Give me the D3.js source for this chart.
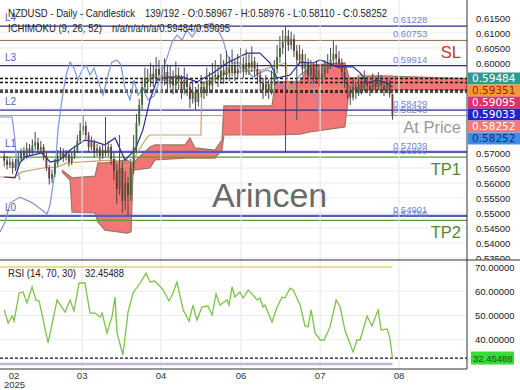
<!DOCTYPE html>
<html>
<head>
<meta charset="utf-8">
<script src="https://cdn.jsdelivr.net/npm/d3@7"></script>
<style>
  body { margin: 0; background: #fff; }
  svg { display: block; font-family: 'Liberation Sans', Arial, sans-serif; }
</style>
</head>
<body>
<div id="chart"></div>
<script>
'use strict';

// ---- data ----
var opens = [
  0.5690,0.5675,0.5660,0.5670,0.5650,0.5665,0.5680,0.5700,0.5690,0.5715,
  0.5705,0.5725,0.5735,0.5710,0.5720,0.5690,0.5650,0.5615,0.5630,0.5665,
  0.5690,0.5700,0.5685,0.5695,0.5670,0.5690,0.5710,0.5740,0.5775,0.5790,
  0.5760,0.5720,0.5735,0.5700,0.5715,0.5690,0.5710,0.5700,0.5720,0.5680,
  0.5640,0.5580,0.5650,0.5540,0.5600,0.5560,0.5650,0.5720,0.5800,0.5860,
  0.5920,0.5950,0.5935,0.5965,0.5950,0.5980,0.5960,0.5940,0.5970,0.5930,
  0.5955,0.5925,0.5960,0.5940,0.5910,0.5945,0.5920,0.5880,0.5905,0.5870,
  0.5900,0.5920,0.5900,0.5940,0.5925,0.5955,0.5960,0.5945,0.5975,0.5960,
  0.5985,0.5970,0.5990,0.5965,0.5980,0.5995,0.5975,0.6000,0.5985,0.6005,
  0.5980,0.5960,0.5935,0.5910,0.5930,0.5905,0.5940,0.5980,0.6020,0.6050,
  0.6070,0.6090,0.6060,0.6080,0.6040,0.6010,0.6030,0.5980,0.6000,0.5960,
  0.5985,0.5950,0.5975,0.5945,0.5965,0.5980,0.5995,0.6010,0.6030,0.6015,
  0.6000,0.5970,0.5935,0.5910,0.5885,0.5920,0.5900,0.5930,0.5915,0.5940,
  0.5925,0.5910,0.5935,0.5920,0.5945,0.5925,0.5910,0.5930,0.58967
];
var highs = [
  0.5705,0.5690,0.5685,0.5680,0.5680,0.5700,0.5715,0.5720,0.5735,0.5730,
  0.5745,0.5770,0.5750,0.5740,0.5730,0.5705,0.5660,0.5645,0.5680,0.5710,
  0.5720,0.5715,0.5710,0.5705,0.5705,0.5725,0.5760,0.5800,0.5827,0.5805,
  0.5770,0.5755,0.5745,0.5730,0.5725,0.5730,0.5820,0.5740,0.5730,0.5700,
  0.5665,0.5760,0.5670,0.5640,0.5620,0.5680,0.5760,0.5830,0.5880,0.5950,
  0.5985,0.5980,0.6000,0.5990,0.6020,0.6010,0.5990,0.6015,0.5995,0.5990,
  0.5975,0.6005,0.5985,0.5960,0.5985,0.5965,0.5935,0.5940,0.5920,0.5930,
  0.5960,0.5940,0.5985,0.5970,0.6000,0.6010,0.5990,0.6030,0.6010,0.6040,
  0.6020,0.6045,0.6010,0.6030,0.6050,0.6020,0.6045,0.6030,0.6055,0.6020,
  0.6000,0.5975,0.5950,0.5960,0.5945,0.5975,0.6010,0.6060,0.6090,0.6110,
  0.6123,0.6110,0.6105,0.6095,0.6060,0.6060,0.6045,0.6030,0.6015,0.6010,
  0.6000,0.6005,0.5990,0.5995,0.6010,0.6030,0.6050,0.6075,0.6060,0.6040,
  0.6015,0.5985,0.5950,0.5925,0.5945,0.5935,0.5955,0.5945,0.5975,0.5955,
  0.5940,0.5965,0.5950,0.5970,0.5960,0.5940,0.5950,0.5945,0.58976
];
var lows = [
  0.5655,0.5645,0.5650,0.5630,0.5640,0.5655,0.5670,0.5675,0.5680,0.5690,
  0.5695,0.5710,0.5700,0.5700,0.5675,0.5640,0.5595,0.5600,0.5620,0.5655,
  0.5680,0.5670,0.5675,0.5655,0.5660,0.5680,0.5700,0.5730,0.5760,0.5745,
  0.5705,0.5710,0.5685,0.5690,0.5675,0.5680,0.5690,0.5690,0.5660,0.5610,
  0.5530,0.5560,0.5500,0.5510,0.5490,0.5540,0.5630,0.5700,0.5790,0.5845,
  0.5900,0.5900,0.5920,0.5920,0.5935,0.5940,0.5910,0.5925,0.5900,0.5915,
  0.5895,0.5910,0.5910,0.5880,0.5895,0.5890,0.5850,0.5865,0.5845,0.5855,
  0.5885,0.5880,0.5890,0.5900,0.5910,0.5935,0.5920,0.5930,0.5930,0.5945,
  0.5940,0.5955,0.5940,0.5950,0.5965,0.5950,0.5960,0.5960,0.5970,0.5955,
  0.5930,0.5905,0.5880,0.5890,0.5880,0.5895,0.5925,0.5965,0.6000,0.6030,
  0.5703,0.6040,0.6045,0.6020,0.5810,0.5995,0.5960,0.5965,0.5940,0.5945,
  0.5930,0.5935,0.5920,0.5930,0.5950,0.5965,0.5980,0.5995,0.5995,0.5980,
  0.5950,0.5915,0.5880,0.5860,0.5875,0.5880,0.5890,0.5895,0.5905,0.5900,
  0.5890,0.5900,0.5900,0.5910,0.5905,0.5890,0.5900,0.5885,0.58110
];
var closes = [
  0.5675,0.5660,0.5670,0.5650,0.5665,0.5680,0.5700,0.5690,0.5715,0.5705,
  0.5725,0.5735,0.5710,0.5720,0.5690,0.5650,0.5615,0.5630,0.5665,0.5690,
  0.5700,0.5685,0.5695,0.5670,0.5690,0.5710,0.5740,0.5775,0.5790,0.5760,
  0.5720,0.5735,0.5700,0.5715,0.5690,0.5710,0.5700,0.5720,0.5680,0.5640,
  0.5580,0.5650,0.5540,0.5600,0.5560,0.5650,0.5720,0.5800,0.5860,0.5920,
  0.5950,0.5935,0.5965,0.5950,0.5980,0.5960,0.5940,0.5970,0.5930,0.5955,
  0.5925,0.5960,0.5940,0.5910,0.5945,0.5920,0.5880,0.5905,0.5870,0.5900,
  0.5920,0.5900,0.5940,0.5925,0.5955,0.5960,0.5945,0.5975,0.5960,0.5985,
  0.5970,0.5990,0.5965,0.5980,0.5995,0.5975,0.6000,0.5985,0.6005,0.5980,
  0.5960,0.5935,0.5910,0.5930,0.5905,0.5940,0.5980,0.6020,0.6050,0.6070,
  0.6090,0.6060,0.6080,0.6040,0.6010,0.6030,0.5980,0.6000,0.5960,0.5985,
  0.5950,0.5975,0.5945,0.5965,0.5980,0.5995,0.6010,0.6030,0.6015,0.6000,
  0.5970,0.5935,0.5910,0.5885,0.5920,0.5900,0.5930,0.5915,0.5940,0.5925,
  0.5910,0.5935,0.5920,0.5945,0.5925,0.5910,0.5930,0.5897,0.58252
];

// ichimoku lines, as [bar, price] vertices
var tenkan = [[0,0.5620],[3.8,0.5617],[5.6,0.5667],[7.4,0.5687],[13.4,0.5700],[16.3,0.5670],
  [19.8,0.5677],[23.4,0.5710],[28.7,0.5743],[32.3,0.5737],[35.8,0.5727],[39.4,0.5750],
  [42.9,0.5677],[46.5,0.5710],[49.3,0.5777],[51.8,0.5877],[54.3,0.5943],[57.9,0.5953],
  [63.6,0.5953],[68.5,0.5937],[74.2,0.5967],[79.2,0.6000],[86.3,0.6033],[90.9,0.6033],
  [94.5,0.6000],[97.0,0.5950],[101.6,0.5960],[105.2,0.6003],[109.8,0.6000],[112.3,0.6010],
  [118.3,0.5987],[124.0,0.5987],[126.5,0.5967],[129.0,0.5933],[132.5,0.5943],[136.1,0.5933],
  [138,0.5920]];
var kijun = [[-1.5,0.5620],[3.8,0.5620],[6.3,0.5637],[13.8,0.5650],[18.8,0.5653],[22.3,0.5667],
  [39.4,0.5677],[42.9,0.5653],[45.8,0.5670],[47.2,0.5700],[50.8,0.5753],[51.8,0.5760],
  [69.9,0.5760],[70.3,0.5930],[79.2,0.5967],[91.6,0.5977],[100.2,0.6000],[100.9,0.5913],
  [124.7,0.5913],[125.8,0.5960],[138,0.5957]];
var chikou = [[-1.5,0.5437],[0.3,0.5470],[2.1,0.5533],[5.6,0.5553],[10.2,0.5533],[15.2,0.5497],
  [16.3,0.5527],[18.1,0.5643],[19.1,0.5777],[20.5,0.5877],[22.0,0.5960],[23.4,0.6003],
  [24.8,0.5983],[26.2,0.5943],[27.7,0.5977],[29.1,0.5993],[30.5,0.5960],[31.9,0.5983],
  [33.3,0.5943],[35.1,0.5893],[36.9,0.5960],[38.3,0.6003],[40.1,0.6010],[41.5,0.5993],
  [42.9,0.5917],[44.7,0.5877],[46.1,0.5943],[47.6,0.5893],[49.3,0.5917],[51.1,0.5877],
  [53.2,0.5890],[54.7,0.5927],[56.4,0.5977],[58.2,0.6027],[59.7,0.6070],[61.4,0.6093],
  [63.2,0.6077],[65.0,0.6110],[66.8,0.6087],[68.5,0.6110],[70.0,0.6120],[71.7,0.6127],
  [73.9,0.6133],[76.0,0.6110],[77.8,0.6077],[79.2,0.6027],[81.0,0.6000],[83.8,0.6000],
  [86.3,0.5977],[88.4,0.5953],[90.9,0.5967],[93.4,0.5977],[95.6,0.5967],[98.0,0.5927],
  [101.6,0.5910],[105.2,0.5960],[107.6,0.5977],[109.8,0.5927],[112.3,0.5823]];
var chikouHead = [[-1.5,0.5820],[2.8,0.5820],[3.8,0.5743],[4.6,0.5643],[5.6,0.5610]];

// cloud edges: bar, senkou A (upper), senkou B (lower)
var cloudBars = [20.5,23.4,24.1,32.3,33.3,35.8,43.7,45.1,45.8,51.8,53.6,64.3,66.0,67.8,
  74.9,77.4,78.1,95.2,96.3,105.2,108.7,121.1,122.6,133.6,147.8,164.5];
var senkouA = [0.5643,0.5623,0.5617,0.5623,0.5667,0.5667,0.5677,0.5667,0.5667,0.5720,0.5727,
  0.5727,0.5750,0.5717,0.5710,0.5743,0.5857,0.5857,0.5937,0.5940,0.5993,0.6000,0.5950,
  0.5957,0.5953,0.59484];
var senkouB = [0.5637,0.5610,0.5503,0.5500,0.5470,0.5443,0.5433,0.5437,0.5643,0.5650,0.5677,
  0.5683,0.5683,0.5683,0.5683,0.5710,0.5760,0.5760,0.5760,0.5763,0.5770,0.5787,0.5910,
  0.5910,0.5910,0.59095];

// rsi vertices
var rsiBars = [0,1.4,2.8,3.5,5.3,6.7,8.1,9.9,11.3,12.4,15.6,18.8,21.6,23.4,24.8,26.6,28.7,
  30.5,32.3,34.1,34.8,36.5,38.3,39.4,40.1,42.2,44.0,45.8,48.3,50.4,51.8,53.3,54.3,56.5,
  58.6,60.0,61.4,63.6,65.7,67.1,68.5,70.3,72.4,73.9,75.3,76.7,79.2,79.9,81.0,82.0,83.8,
  84.9,86.7,88.4,89.9,90.9,92.0,92.7,95.2,97.0,98.8,99.8,101.6,102.7,105.2,106.9,108.0,
  109.1,110.5,112.3,113.7,115.8,118.0,119.4,121.1,124.0,125.4,126.5,129.0,130.7,132.9,
  134.0,136.1,137.1,138];
var rsiValues = [52.3,46.9,49.8,47.7,59.3,59.7,55.2,61.8,56.4,56.0,38.7,56.4,51.4,56.4,51.9,
  63.4,63.4,51.0,51.0,49.4,51.0,42.8,49.4,57.6,42.8,33.7,51.4,59.3,63.4,67.5,63.8,64.2,
  63.4,60.5,56.0,59.3,63.8,52.3,47.7,54.3,48.1,53.5,53.9,50.2,58.9,54.3,56.4,54.3,61.8,
  57.6,59.7,57.2,60.5,58.5,56.4,57.2,53.5,54.3,47.3,53.5,57.6,57.2,61.3,60.5,54.3,45.7,
  45.3,52.3,42.8,39.9,39.9,45.3,56.4,53.5,44.0,35.0,39.9,39.9,49.8,45.7,52.3,44.0,44.4,
  40.7,32.45488];

var priceTicks = [0.615,0.610,0.605,0.600,0.595,0.590,0.585,0.580,0.575,0.570,0.565,0.560,
  0.555,0.550,0.545,0.540,0.535];
var rsiTicks = [70, 60, 50, 40, 30];
var monthTicks = [3.5, 27.7, 55.7, 84.2, 112.3, 140.3];
var monthLabels = ['02', '03', '04', '06', '07', '08'];

var levelValues = [0.61228, 0.60753, 0.59914, 0.58429, 0.58248, 0.57039, 0.56860, 0.54901, 0.54756];
var levelColors = ['#2b2d8c','#8a6a4a','#2b2d8c','#2b2d8c','#a89888','#5a5ab8','#5b9a3c','#5a5ab8','#5b9a3c'];
var levelWidths = [1.3, 1, 1.3, 1.3, 1, 2.2, 1.2, 2.2, 1.2];
var zoneNames = ['L4', 'L3', 'L2', 'L1', 'L0'];
var zoneValues = [0.61228, 0.59914, 0.58429, 0.57039, 0.54901];
var dashValues = [0.59484, 0.59351, 0.59095, 0.59033];
var tagNames = ['SL', 'At Price', 'TP1', 'TP2'];
var tagValues = [0.60753, 0.58252, 0.56860, 0.54756];
var tagColors = ['#c0392b', '#9a9a9a', '#4f8a2a', '#4f8a2a'];

var boxValues = [0.59484, 0.59351, 0.59095, 0.59033, 0.58252, 0.58252];
var boxFills = ['#2f9a90', '#ef9a3a', '#e0306a', '#2323c8', '#f27a7a', '#3d8fe6'];
var boxTexts = ['#ffffff', '#b01818', '#ffffff', '#ffffff', '#ffffff', '#10307a'];

var rsiLast = 32.45488;

// ---- layout ----
var W = 520, H = 390,
    plotRight = 467,
    mainBottom = 260,
    rsiBottom = 369,
    lastBar = closes.length - 1;

var x = d3.scaleLinear().domain([-1.5, 164.5]).range([0, plotRight]);
var y = d3.scaleLinear().domain([0.535, 0.615]).range([258, 18]);
var yRsi = d3.scaleLinear().domain([30, 70]).range([364, 267]);

var svg = d3.select('#chart').append('svg')
    .attr('width', W)
    .attr('height', H);

var defs = svg.append('defs');
defs.append('clipPath').attr('id', 'mainClip')
  .append('rect').attr('x', 0).attr('y', 0).attr('width', plotRight).attr('height', mainBottom);
defs.append('clipPath').attr('id', 'rsiClip')
  .append('rect').attr('x', 0).attr('y', mainBottom).attr('width', plotRight).attr('height', rsiBottom - mainBottom);

var main = svg.append('g').attr('clip-path', 'url(#mainClip)');

// grid
main.selectAll('.hgrid')
  .data(priceTicks)
  .enter().append('line')
  .attr('x1', 0).attr('x2', plotRight)
  .attr('y1', function(d) { return y(d); })
  .attr('y2', function(d) { return y(d); })
  .attr('stroke', '#ececec');

svg.selectAll('.vgrid')
  .data(monthTicks.slice(1))
  .enter().append('line')
  .attr('x1', function(d) { return x(d); })
  .attr('x2', function(d) { return x(d); })
  .attr('y1', 0).attr('y2', rsiBottom)
  .attr('stroke', '#e6e6e6');

// cloud
var cloud = cloudBars.map(function(b, i) { return {bar: b, a: senkouA[i], b: senkouB[i]}; });

main.append('path')
  .datum(cloud)
  .attr('fill', '#f36e6e')
  .attr('fill-opacity', 0.95)
  .attr('d', d3.area()
    .x(function(d) { return x(d.bar); })
    .y0(function(d) { return y(d.b); })
    .y1(function(d) { return y(d.a); }));

['a', 'b'].forEach(function(k) {
  main.append('path')
    .datum(cloud)
    .attr('fill', 'none')
    .attr('stroke', '#9a7666')
    .attr('stroke-width', 1.2)
    .attr('d', d3.line()
      .x(function(d) { return x(d.bar); })
      .y(function(d) { return y(d[k]); }));
});

// levels
main.selectAll('.level')
  .data(levelValues)
  .enter().append('line')
  .attr('x1', 0).attr('x2', plotRight)
  .attr('y1', function(d) { return y(d); })
  .attr('y2', function(d) { return y(d); })
  .attr('stroke', function(d, i) { return levelColors[i]; })
  .attr('stroke-width', function(d, i) { return levelWidths[i]; });

main.selectAll('.dash')
  .data(dashValues)
  .enter().append('line')
  .attr('x1', 0).attr('x2', plotRight)
  .attr('y1', function(d) { return y(d); })
  .attr('y2', function(d) { return y(d); })
  .attr('stroke', '#111')
  .attr('stroke-width', 1.4)
  .attr('stroke-dasharray', '3,2');

// ichimoku lines
var pline = d3.line()
  .x(function(d) { return x(d[0]); })
  .y(function(d) { return y(d[1]); });

[[chikou, '#7f97d8'], [chikouHead, '#7f97d8'], [kijun, '#c9a56e'], [tenkan, '#2a2a9a']].forEach(function(s) {
  main.append('path')
    .datum(s[0])
    .attr('fill', 'none')
    .attr('stroke', s[1])
    .attr('stroke-width', 1.2)
    .attr('d', pline);
});

// candles
var bars = d3.range(closes.length);
var candle = main.selectAll('.candle')
  .data(bars)
  .enter().append('g');

candle.append('line')
  .attr('x1', function(i) { return x(i); })
  .attr('x2', function(i) { return x(i); })
  .attr('y1', function(i) { return y(highs[i]); })
  .attr('y2', function(i) { return y(lows[i]); })
  .attr('stroke', '#4a4a4a')
  .attr('stroke-width', 1);

candle.append('rect')
  .attr('x', function(i) { return x(i) - 0.9; })
  .attr('width', 1.8)
  .attr('y', function(i) { return y(Math.max(opens[i], closes[i])); })
  .attr('height', function(i) { return Math.max(1, Math.abs(y(opens[i]) - y(closes[i]))); })
  .attr('fill', function(i) { return closes[i] >= opens[i] ? '#3f6b38' : '#6b3a3a'; });

// level value labels
main.selectAll('.lvl-label')
  .data(levelValues)
  .enter().append('text')
  .attr('x', x(lastBar) + 0.5)
  .attr('y', function(d) { return y(d) - 3; })
  .attr('font-size', 9.5)
  .attr('fill', '#7385d6')
  .text(function(d) { return d.toFixed(5); });

main.selectAll('.zone')
  .data(zoneValues)
  .enter().append('text')
  .attr('x', 5)
  .attr('y', function(d) { return y(d) - 5; })
  .attr('font-size', 10)
  .attr('fill', '#5561b0')
  .text(function(d, i) { return zoneNames[i]; });

main.selectAll('.tag')
  .data(tagValues)
  .enter().append('text')
  .attr('x', 461)
  .attr('y', function(d) { return y(d) + 18; })
  .attr('text-anchor', 'end')
  .attr('font-size', 16.5)
  .attr('fill', function(d, i) { return tagColors[i]; })
  .text(function(d, i) { return tagNames[i]; });

main.append('text')
  .attr('x', 212).attr('y', 207)
  .attr('font-size', 34)
  .attr('fill', '#6a6a6a')
  .text('Arincen');

// header
var hdr = [
  ['NZDUSD - Daily - Candlestick', 8, 17, 127],
  ['139/192 - O:0.58967 - H:0.58976 - L:0.58110 - C:0.58252', 145, 17, 242],
  ['ICHIMOKU (9, 26, 52)', 8, 32, 94],
  ['n/a/n/a/n/a/0.59484/0.59095', 112, 32, 118]
];
svg.selectAll('.hdr')
  .data(hdr)
  .enter().append('text')
  .attr('x', function(d) { return d[1]; })
  .attr('y', function(d) { return d[2]; })
  .attr('textLength', function(d) { return d[3]; })
  .attr('lengthAdjust', 'spacingAndGlyphs')
  .attr('font-family', "'Liberation Sans Narrow', 'Liberation Sans', Arial, sans-serif")
  .attr('font-size', 11.5)
  .attr('fill', '#222')
  .text(function(d) { return d[0]; });

// stacked value boxes
var boxY = [];
boxValues.forEach(function(v, i) {
  var c = y(v);
  if (i > 0) { c = Math.max(c, boxY[i - 1] + 12); }
  boxY.push(c);
});
var boxTop = boxY[0] - 6, boxBottom = boxY[boxY.length - 1] + 6;

// price axis labels (the ones under the box stack are covered anyway)
svg.selectAll('.ptick')
  .data(priceTicks.filter(function(d) { return y(d) < boxTop - 4 || y(d) > boxBottom + 4; }))
  .enter().append('text')
  .attr('x', 476)
  .attr('y', function(d) { return y(d) + 3.5; })
  .attr('font-size', 9.5)
  .attr('fill', '#222')
  .text(function(d) { return d.toFixed(5); });

var box = svg.selectAll('.box')
  .data(boxValues)
  .enter().append('g')
  .attr('transform', function(d, i) { return 'translate(468,' + (boxY[i] - 6) + ')'; });

box.append('rect')
  .attr('width', 52).attr('height', 12)
  .attr('fill', function(d, i) { return boxFills[i]; });

box.append('text')
  .attr('x', 4).attr('y', 9.8)
  .attr('font-family', "'DejaVu Sans', sans-serif")
  .attr('font-size', 10.5)
  .attr('fill', function(d, i) { return boxTexts[i]; })
  .text(function(d) { return d.toFixed(5); });

// ---- rsi panel ----
svg.append('rect')
  .attr('x', 0).attr('y', mainBottom)
  .attr('width', W).attr('height', H - mainBottom)
  .attr('fill', '#fff');

svg.selectAll('.vgrid2')
  .data(monthTicks.slice(1))
  .enter().append('line')
  .attr('x1', function(d) { return x(d); })
  .attr('x2', function(d) { return x(d); })
  .attr('y1', mainBottom).attr('y2', rsiBottom)
  .attr('stroke', '#e6e6e6');

var rsiG = svg.append('g').attr('clip-path', 'url(#rsiClip)');

rsiG.selectAll('.rgrid')
  .data(rsiTicks.slice(1, 4))
  .enter().append('line')
  .attr('x1', 0).attr('x2', plotRight)
  .attr('y1', function(d) { return yRsi(d); })
  .attr('y2', function(d) { return yRsi(d); })
  .attr('stroke', '#ececec');

rsiG.append('line')
  .attr('x1', 0).attr('x2', x(lastBar))
  .attr('y1', yRsi(70)).attr('y2', yRsi(70))
  .attr('stroke', '#e8dc98').attr('stroke-width', 2);

rsiG.append('line')
  .attr('x1', 0).attr('x2', x(lastBar))
  .attr('y1', yRsi(30)).attr('y2', yRsi(30))
  .attr('stroke', '#c2b2e0').attr('stroke-width', 2.5);

rsiG.append('line')
  .attr('x1', 0).attr('x2', plotRight)
  .attr('y1', yRsi(rsiLast)).attr('y2', yRsi(rsiLast))
  .attr('stroke', '#111').attr('stroke-width', 1.3)
  .attr('stroke-dasharray', '3,2');

rsiG.append('path')
  .datum(rsiBars.map(function(b, i) { return [b, rsiValues[i]]; }))
  .attr('fill', 'none')
  .attr('stroke', '#7cc24a')
  .attr('stroke-width', 1.3)
  .attr('d', d3.line()
    .x(function(d) { return x(d[0]); })
    .y(function(d) { return yRsi(d[1]); }));

svg.append('text')
  .attr('x', 8).attr('y', 277)
  .attr('textLength', 68).attr('lengthAdjust', 'spacingAndGlyphs')
  .attr('font-family', "'Liberation Sans Narrow', 'Liberation Sans', Arial, sans-serif")
  .attr('font-size', 11).attr('fill', '#222')
  .text('RSI (14, 70, 30)');
svg.append('text')
  .attr('x', 85).attr('y', 277)
  .attr('textLength', 39).attr('lengthAdjust', 'spacingAndGlyphs')
  .attr('font-family', "'Liberation Sans Narrow', 'Liberation Sans', Arial, sans-serif")
  .attr('font-size', 11).attr('fill', '#222')
  .text(rsiLast.toFixed(5));

// the 30 label sits under the current-value box, as in the source
svg.selectAll('.rtick')
  .data(rsiTicks.slice(0, 4))
  .enter().append('text')
  .attr('x', 475)
  .attr('y', function(d) { return yRsi(d) + 3.5; })
  .attr('font-size', 9.5)
  .attr('fill', '#222')
  .text(function(d) { return d.toFixed(5); });

var rbox = svg.append('g').attr('transform', 'translate(471,' + (yRsi(rsiLast) - 6.5) + ')');
rbox.append('rect').attr('width', 43).attr('height', 13).attr('fill', '#35dd35');
rbox.append('text')
  .attr('x', 2).attr('y', 10)
  .attr('font-size', 9.5).attr('fill', '#145214')
  .text(rsiLast.toFixed(5));

// frame
svg.append('line')
  .attr('x1', 0).attr('x2', W)
  .attr('y1', mainBottom).attr('y2', mainBottom)
  .attr('stroke', '#333');
svg.append('line')
  .attr('x1', 0).attr('x2', plotRight)
  .attr('y1', rsiBottom).attr('y2', rsiBottom)
  .attr('stroke', '#333');
svg.append('line')
  .attr('x1', plotRight).attr('x2', plotRight)
  .attr('y1', 0).attr('y2', rsiBottom)
  .attr('stroke', '#333');

// month axis
svg.selectAll('.mlabel')
  .data(monthTicks)
  .enter().append('text')
  .attr('x', function(d) { return x(d); })
  .attr('y', 379)
  .attr('text-anchor', 'middle')
  .attr('font-size', 9.5)
  .attr('fill', '#333')
  .text(function(d, i) { return monthLabels[i]; });

svg.append('text')
  .attr('x', 4).attr('y', 388)
  .attr('font-size', 9.5)
  .attr('fill', '#333')
  .text('2025');
</script>
</body>
</html>
